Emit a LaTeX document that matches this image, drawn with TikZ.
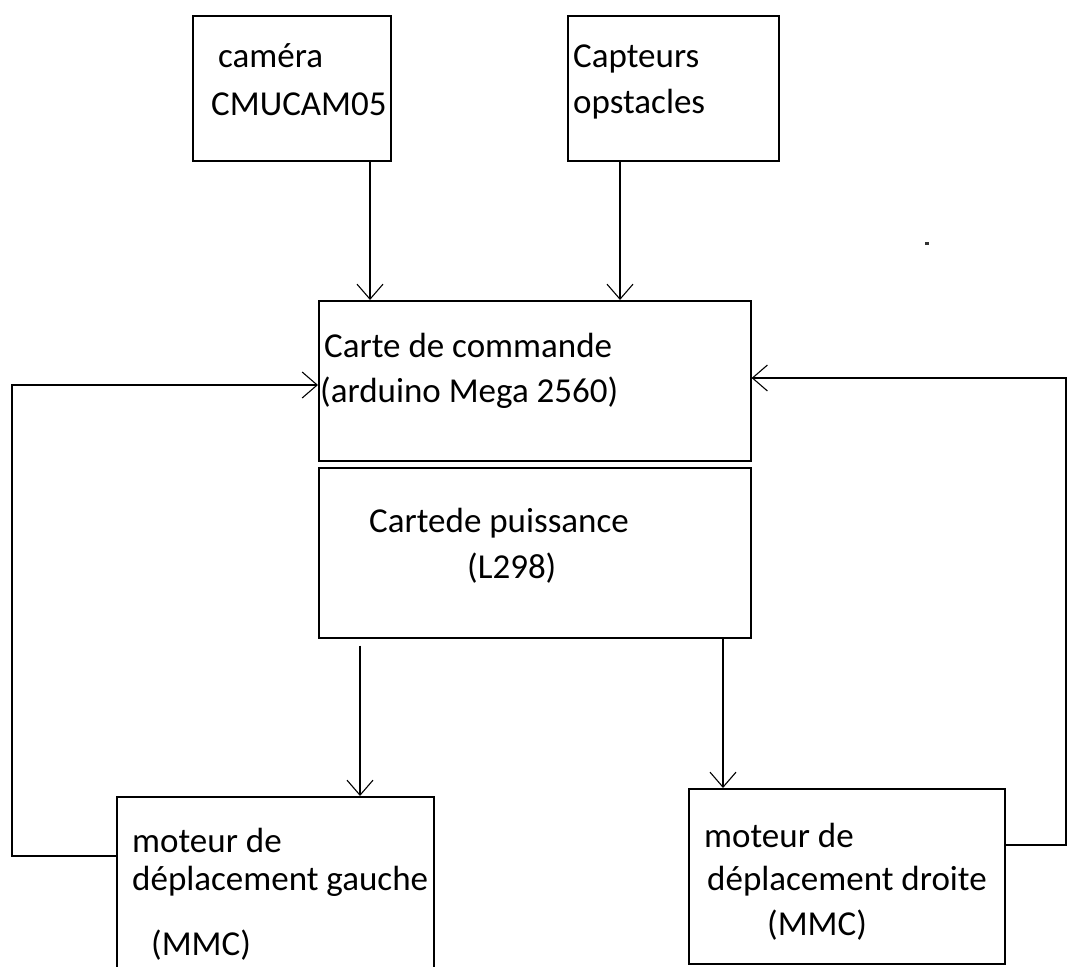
\documentclass[tikz,border=0pt]{standalone}
\usepackage{fontspec}
\setmainfont{Carlito}
\usetikzlibrary{arrows.meta}
\begin{document}
\begin{tikzpicture}[x=1pt,y=-1pt,
  box/.style={draw=black,line width=1.6pt,inner sep=0pt,anchor=north west},
  lbl/.style={inner sep=0pt,anchor=base west,font=\fontsize{35}{41}\selectfont,text=black},
  arr/.style={draw=black,line width=1.5pt,-{Straight Barb[length=15pt,width=26pt,line width=1.1pt]}},
  link/.style={draw=black,line width=1.5pt}]
\useasboundingbox (0,0) rectangle (1067,966);
% boxes
\node[box,minimum width=198pt,minimum height=145pt] (cam) at (192,15) {};
\node[box,minimum width=211pt,minimum height=145pt] (cap) at (567,15) {};
\node[box,minimum width=432pt,minimum height=160pt] (cmd) at (318,300) {};
\node[box,minimum width=432pt,minimum height=170pt] (pui) at (318,467) {};
\node[box,minimum width=317pt,minimum height=190pt] (mg) at (116,796) {};
\node[box,minimum width=316pt,minimum height=175pt] (md) at (688,788) {};
% texts
\node[lbl] (t1) at (218,67) {caméra};
\node[lbl] (t2) at (211,115) {CMUCAM05};
\node[lbl] (t3) at (573,67) {Capteurs};
\node[lbl] (t4) at (573,113) {opstacles};
\node[lbl] (t5) at (324,357) {Carte de commande};
\node[lbl] (t6) at (320,402) {(arduino Mega 2560)};
\node[lbl] (t7) at (369,532) {Cartede puissance};
\node[lbl] (t8) at (467,578) {(L298)};
\node[lbl] (t9) at (132,852) {moteur de};
\node[lbl] (t10) at (132,890) {déplacement gauche};
\node[lbl] (t11) at (151,955) {(MMC)};
\node[lbl] (t12) at (704,847) {moteur de};
\node[lbl] (t13) at (707,890) {déplacement droite};
\node[lbl] (t14) at (767,935) {(MMC)};
% corner coordinates
\coordinate (lc1) at (12,856);
\coordinate (lc2) at (12,385);
\coordinate (rc1) at (1066,845);
\coordinate (rc2) at (1066,378);
% connectors
\draw[arr] ([xshift=178pt]cam.south west) -- ([xshift=52pt]cmd.north west);
\draw[arr] ([xshift=53pt]cap.south west) -- ([xshift=302pt]cmd.north west);
\draw[arr] ([xshift=42pt,yshift=-7pt]pui.south west) -- ([xshift=244pt]mg.north west);
\draw[arr] ([xshift=405pt]pui.south west) -- ([xshift=35pt]md.north west);
\draw[arr] ([yshift=-60pt]mg.north west) -- (lc1) -- (lc2) -- ([yshift=-85pt]cmd.north west);
\draw[arr] ([yshift=-57pt]md.north east) -- (rc1) -- (rc2) -- ([yshift=-78pt]cmd.north east);
% speck
\fill[black!80] (925,242) rectangle (929,245);
\end{tikzpicture}
\end{document}
